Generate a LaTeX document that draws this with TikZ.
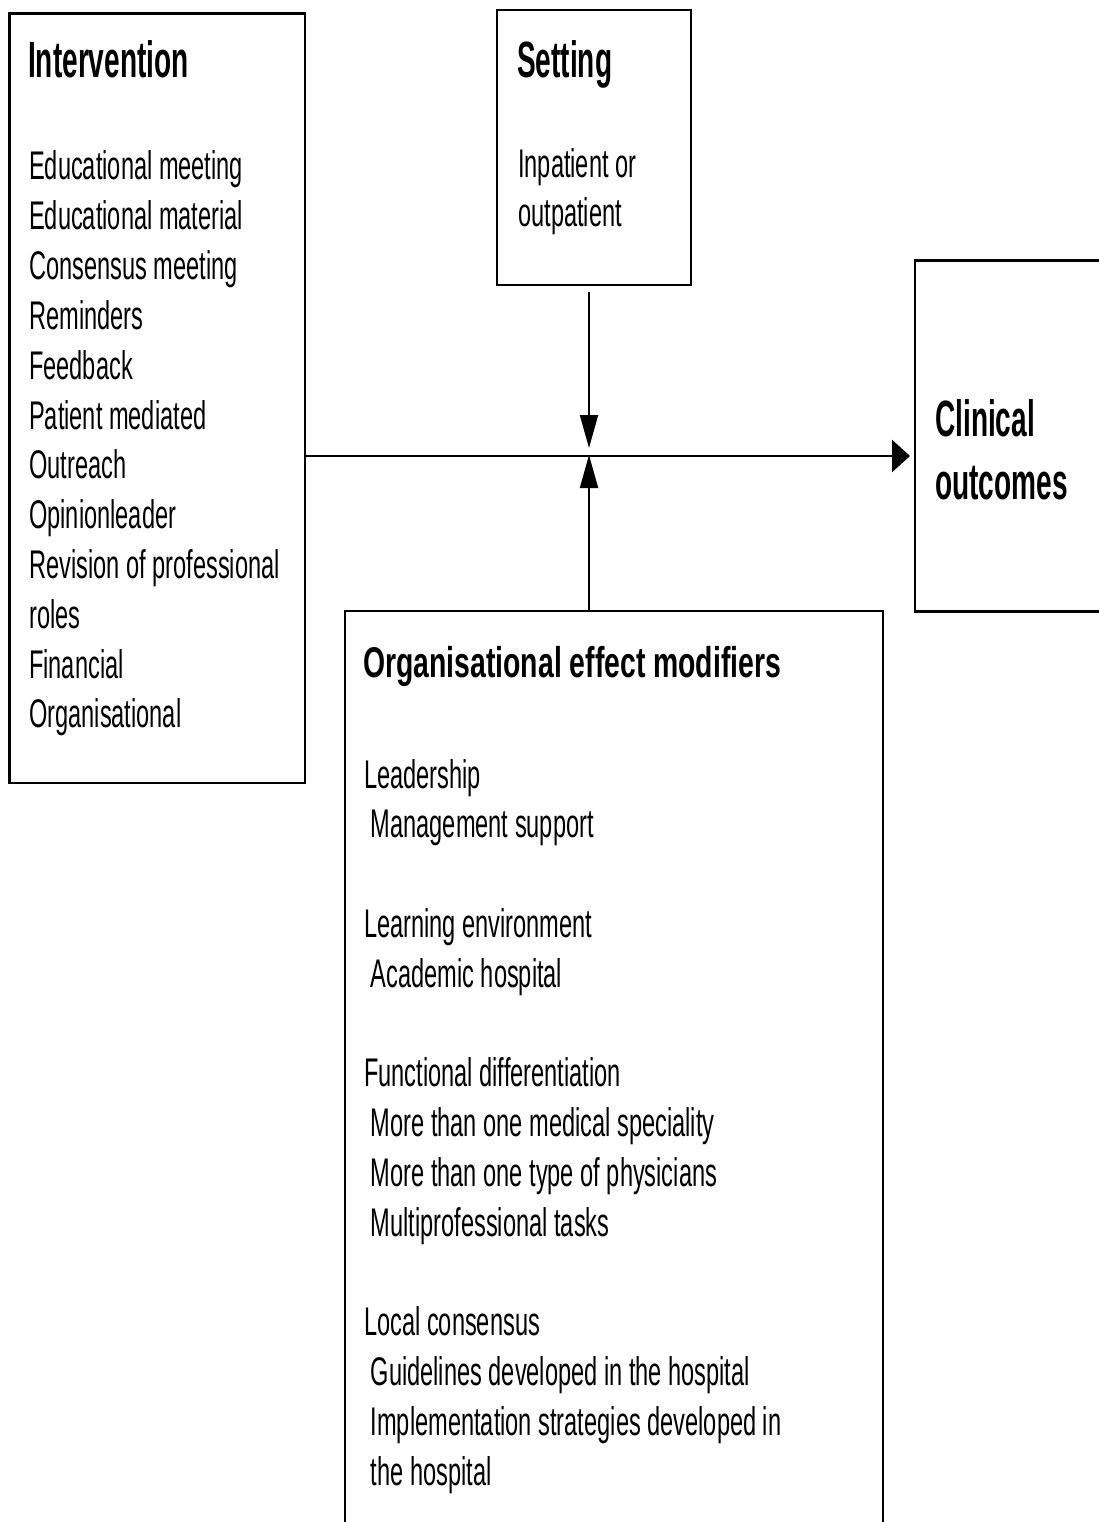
\documentclass[tikz,border=0pt]{standalone}
\usepackage{fontspec}
\usetikzlibrary{arrows.meta}
\newfontfamily\bodyfont[FakeStretch=0.59]{Liberation Sans}
\newfontfamily\headfont[FakeStretch=0.55]{Liberation Sans}
\newfontfamily\orgheadfont[FakeStretch=0.66]{Liberation Sans}
\tikzset{
  box/.style={draw, line width=2.3pt, inner sep=0pt, outer sep=0pt, anchor=north west},
  txt/.style={anchor=base west, inner sep=0pt, font=\bodyfont\fontsize{40}{50}\selectfont},
  headtxt/.style={anchor=base west, inner sep=0pt, font=\headfont\bfseries\fontsize{51}{59}\selectfont},
  orgheadtxt/.style={anchor=base west, inner sep=0pt, font=\orgheadfont\bfseries\fontsize{43}{50}\selectfont},
  hconn/.style={line width=2.8pt, -{Triangle[length=18pt,width=32pt]}},
  vconn/.style={line width=2pt, -{Triangle[length=33pt,width=18pt]}}
}
\begin{document}
\begin{tikzpicture}[x=1pt,y=-1pt]
\useasboundingbox (0,0) rectangle (1099,1522);
\clip (0,0) rectangle (1099,1522);
\fill[white] (0,0) rectangle (1099,1522);
% boxes
\node[box, minimum width=295.5pt, minimum height=769.5pt] (int) at (9.5,13.5) {};
\node[box, minimum width=194pt, minimum height=275pt] (set) at (497,10) {};
\node[box, minimum width=200pt, minimum height=351pt] (clin) at (915,260.5) {};
\node[box, minimum width=538pt, minimum height=1000pt] (org) at (345,611) {};
\coordinate (junc) at (589,456);
% titles
\node[headtxt] (intT) at (28,78) {Intervention};
\node[headtxt] (setT) at (517,78) {Setting};
\node[headtxt] (clinT1) at (935,436) {Clinical};
\node[headtxt] (clinT2) at (935,499) {outcomes};
\node[orgheadtxt] (orgT) at (363,677) {Organisational effect modifiers};
% intervention list
\foreach \t [count=\k from 0] in {Educational meeting, Educational material, Consensus meeting, Reminders, Feedback, Patient mediated, Outreach, Opinionleader, Revision of professional, roles, Financial, Organisational}
  \node[txt] (int\k) at (29,180+49.8*\k) {\t};
% setting
\node[txt] (set1) at (518,178) {Inpatient or};
\node[txt] (set2) at (518,227) {outpatient};
% organisational list
\node[txt] (org0) at (364,788) {Leadership};
\node[txt] (org1) at (364,788+49.8*1) {\ Management support};
\node[txt] (org3) at (364,788+49.8*3) {Learning environment};
\node[txt] (org4) at (364,788+49.8*4) {\ Academic hospital};
\node[txt] (org6) at (364,788+49.8*6) {Functional differentiation};
\node[txt] (org7) at (364,788+49.8*7) {\ More than one medical speciality};
\node[txt] (org8) at (364,788+49.8*8) {\ More than one type of physicians};
\node[txt] (org9) at (364,788+49.8*9) {\ Multiprofessional tasks};
\node[txt] (org11) at (364,788+49.8*11) {Local consensus};
\node[txt] (org12) at (364,788+49.8*12) {\ Guidelines developed in the hospital};
\node[txt] (org13) at (364,788+49.8*13) {\ Implementation strategies developed in};
\node[txt] (org14) at (364,788+49.8*14) {\ the hospital};
% connectors
\draw[hconn, shorten >=5pt] (int.east |- junc) -- (clin.west |- junc);
\draw[vconn, shorten >=8pt] ([yshift=-7pt]set.south -| junc) -- (junc);
\draw[vconn, shorten >=-1pt] (org.north -| junc) -- (junc);
\end{tikzpicture}
\end{document}
